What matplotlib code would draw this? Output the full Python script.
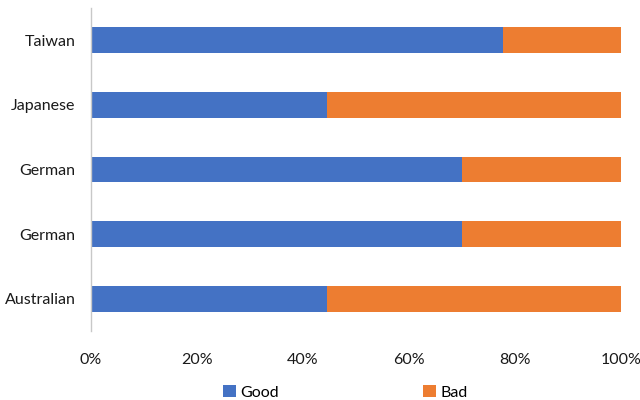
import matplotlib
matplotlib.use("Agg")
from matplotlib import pyplot as plt
from matplotlib.ticker import PercentFormatter

plt.rcParams['font.family'] = ['Lato', 'DejaVu Sans']

# categories listed bottom to top
categories = ['Australian', 'German', 'German', 'Japanese', 'Taiwan']
good = [44.5, 70.0, 70.0, 44.5, 77.8]
bad = [100 - g for g in good]

BLUE = '#4472C4'
ORANGE = '#ED7D31'

fig = plt.figure(figsize=(6.4, 4.0), dpi=100)
ax = fig.add_axes([0.142, 0.1725, 0.828, 0.8075])

positions = range(len(categories))
ax.barh(positions, good, height=0.4, color=BLUE, label='Good')
ax.barh(positions, bad, left=good, height=0.4, color=ORANGE, label='Bad')

ax.set_xlim(0, 100)
ax.set_ylim(-0.5, len(categories) - 0.5)
ax.set_yticks(list(positions))
ax.set_yticklabels(categories)
ax.set_xticks([0, 20, 40, 60, 80, 100])
ax.xaxis.set_major_formatter(PercentFormatter(decimals=0))

ax.tick_params(axis='both', length=0, labelsize=11.5, colors='#1a1a1a')
ax.tick_params(axis='x', pad=16)
ax.tick_params(axis='y', pad=11)

for side in ('top', 'right', 'bottom'):
    ax.spines[side].set_visible(False)
ax.spines['left'].set_color('#C8C8C8')
ax.spines['left'].set_linewidth(1.0)

ax.legend(loc='center', bbox_to_anchor=(0.48, -0.19), ncol=2, frameon=False,
          fontsize=11.5, handlelength=0.8, handleheight=0.8, handletextpad=0.3,
          columnspacing=9.0, borderpad=0.2)

fig.savefig('out.png', dpi=100)
